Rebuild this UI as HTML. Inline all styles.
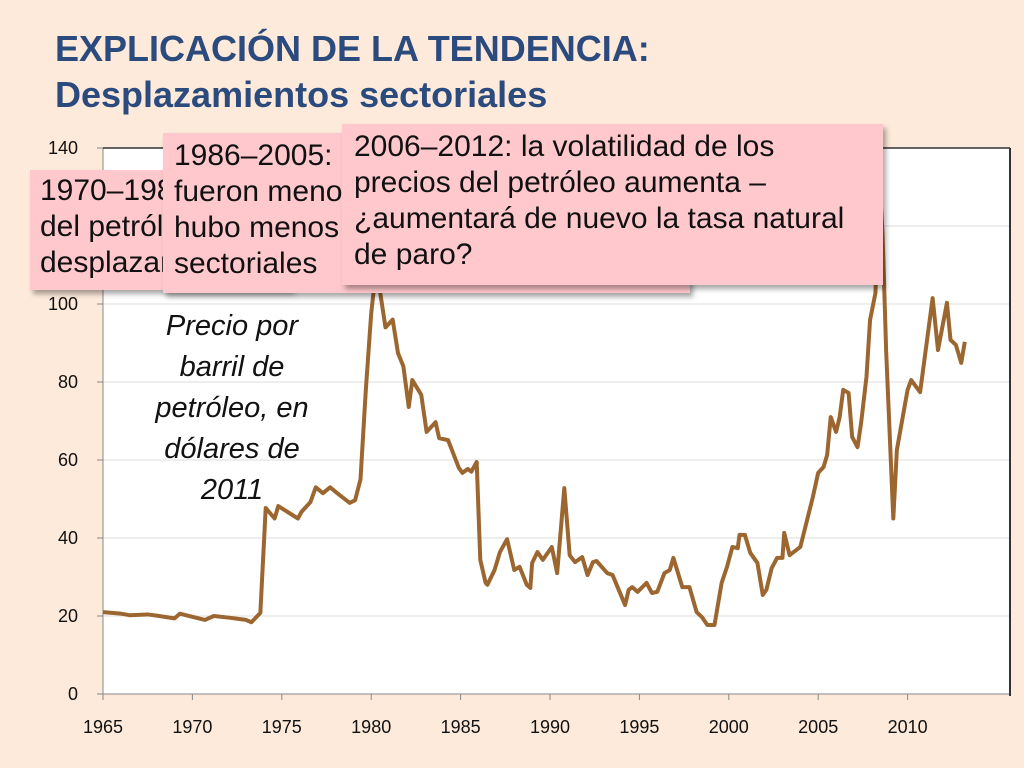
<!DOCTYPE html>
<html><head><meta charset="utf-8"><style>
body{margin:0;width:1024px;height:768px;background:#FDEADA;font-family:"Liberation Sans",sans-serif;overflow:hidden;position:relative}
.title{position:absolute;left:55px;top:26px;color:#2B4B7E;font-weight:bold;font-size:36px;line-height:46px}
.box{position:absolute;background:#FFC8CC;box-shadow:3px 4px 5px rgba(0,0,0,0.35);font-size:30px;line-height:36px;color:#111;padding:6px 12px;box-sizing:border-box;overflow:hidden;white-space:nowrap}
.note{position:absolute;left:132px;top:306px;width:200px;text-align:center;font-style:italic;font-size:29px;line-height:41px;color:#111}
</style></head><body>
<div class="title">EXPLICACIÓN DE LA TENDENCIA:<br>Desplazamientos sectoriales</div>
<svg id="chart" width="1024" height="768" style="position:absolute;left:0;top:0"></svg>
<div class="note">Precio por<br>barril de<br>petróleo, en<br>dólares de<br>2011</div>
<div class="box" style="left:30px;top:170px;width:262px;height:120px;padding-top:3px;padding-left:10px">1970–1985: los shocks<br>del petróleo causaron<br>desplazamientos</div>
<div class="box" style="left:163px;top:133px;width:527px;height:160px;padding-top:5px;padding-left:11px">1986–2005: los shocks del petróleo<br>fueron menores y por tanto<br>hubo menos desplazamientos<br>sectoriales</div>
<div class="box" style="left:342px;top:124px;width:541px;height:161px;padding-top:5px;padding-left:12px">2006–2012: la volatilidad de los<br>precios del petróleo aumenta –<br>¿aumentará de nuevo la tasa natural<br>de paro?</div>
<script>
const years=[1965,1966,1966.5,1967.5,1968,1969,1969.3,1970,1970.7,1971.2,1972,1973,1973.3,1973.8,1974.1,1974.6,1974.8,1975.9,1976.1,1976.6,1976.9,1977.3,1977.7,1978.1,1978.8,1979.1,1979.4,1979.7,1980.0,1980.2,1980.5,1980.8,1981.2,1981.5,1981.8,1982.1,1982.3,1982.8,1983.1,1983.6,1983.8,1984.3,1984.9,1985.1,1985.4,1985.6,1985.9,1986.1,1986.4,1986.5,1986.9,1987.2,1987.6,1988.0,1988.3,1988.7,1988.9,1989.0,1989.3,1989.6,1990.1,1990.4,1990.8,1991.1,1991.4,1991.8,1992.1,1992.4,1992.6,1993.2,1993.5,1994.2,1994.4,1994.6,1994.9,1995.4,1995.7,1996.0,1996.4,1996.7,1996.9,1997.4,1997.8,1998.2,1998.5,1998.8,1999.2,1999.6,1999.9,2000.2,2000.5,2000.6,2000.9,2001.2,2001.6,2001.9,2002.1,2002.4,2002.7,2003.0,2003.1,2003.4,2004.0,2004.4,2004.7,2005.0,2005.3,2005.5,2005.7,2006.0,2006.2,2006.4,2006.7,2006.9,2007.2,2007.4,2007.7,2007.9,2008.2,2008.3,2008.45,2008.6,2008.8,2009.2,2009.4,2010.0,2010.2,2010.7,2011.4,2011.7,2012.2,2012.4,2012.7,2013.0,2013.2];
const prices=[21,20.6,20.2,20.4,20.1,19.4,20.6,19.8,19,20,19.6,19,18.4,20.8,47.7,45,48.2,45,46.7,49.2,53,51.5,53,51.5,49,49.7,55,78,97.6,106,103,94,96,87.4,84,73.6,80.5,76.7,67.2,69.7,65.6,65.1,58,56.7,57.7,57,59.5,34.4,28.5,28,31.8,36.4,39.7,31.8,32.6,28,27.2,33.6,36.4,34.4,37.7,31,52.8,35.6,33.8,35.1,30.5,33.8,34.1,31,30.5,22.8,26.7,27.4,26.2,28.5,25.9,26.2,31,31.8,34.9,27.4,27.4,21,19.7,17.7,17.7,28.5,32.6,37.7,37.4,40.8,40.8,36.2,33.6,25.4,26.7,32.3,34.9,34.9,41.3,35.6,37.7,45,50.5,56.7,58.2,61.3,71,67.2,71,78,77.2,65.9,63.3,69.5,81.3,95.9,102.8,113.8,130,118,88,45,62.6,78,80.5,77.4,101.5,88.2,100.3,90.8,89.5,84.9,90.3];
const yTicks=[0,20,40,60,80,100,120,140];
const xTicks=[1965,1970,1975,1980,1985,1990,1995,2000,2005,2010];
const NS="http://www.w3.org/2000/svg";
const svg=document.getElementById('chart');
const L=103,R=1010,T=148,B=694;
const x=v=>L+(v-1965)*17.88;
const y=v=>B-(v/140)*(B-T);
function mk(t,a){const e=document.createElementNS(NS,t);for(const k in a)e.setAttribute(k,a[k]);svg.appendChild(e);return e;}
const bg=mk('rect',{x:L,y:T,width:R-L,height:B-T,fill:'#fff'});


yTicks.forEach(v=>{
 const g=mk('line',{x1:L,x2:R,y1:y(v),y2:y(v),stroke:v==0?'#888':'#ddd','stroke-width':1});
 
 
 const tk=mk('line',{x1:L-6,x2:L,y1:y(v),y2:y(v),stroke:'#888'});
 
 
 const t=mk('text',{x:L-25,y:y(v)+6,'text-anchor':'end','font-size':18,fill:'#111','font-family':'Liberation Sans'});
 t.textContent=v;
 
 
});
xTicks.forEach(v=>{
 const tk=mk('line',{x1:x(v),x2:x(v),y1:B,y2:B+6,stroke:'#888'});
 
 
 const t=mk('text',{x:x(v),y:B+39,'text-anchor':'middle','font-size':18,fill:'#111','font-family':'Liberation Sans'});
 t.textContent=v;
 
 
});
const ax=mk('line',{x1:L,x2:L,y1:T,y2:B,stroke:'#888'});


const rb=mk('line',{x1:R,x2:R,y1:T,y2:B+2,stroke:'#333','stroke-width':2});


const tb=mk('line',{x1:L,x2:R,y1:T,y2:T,stroke:'#333','stroke-width':1.5});


const pl=mk('polyline',{points:years.map((yr,i)=>x(yr)+','+y(prices[i])).join(' '),fill:'none',stroke:'#9C6630','stroke-width':4,'stroke-linejoin':'round'});


</script>
</body></html>
